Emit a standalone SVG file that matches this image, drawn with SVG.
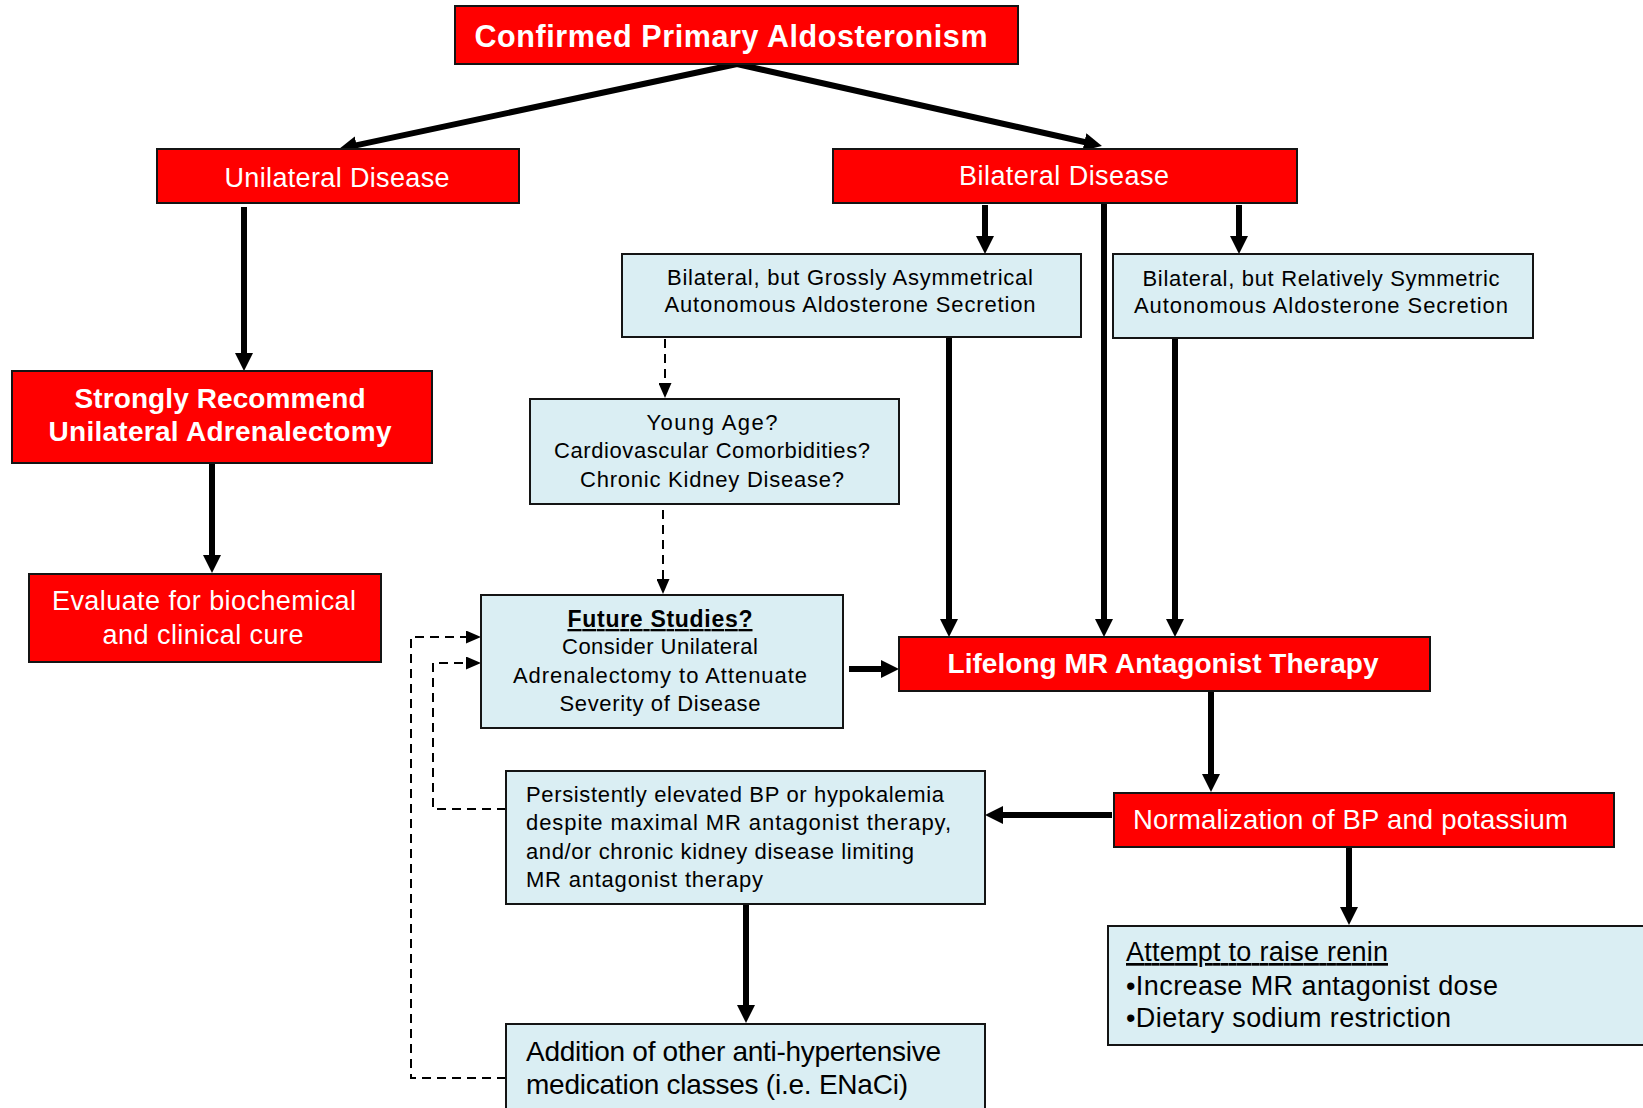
<svg xmlns="http://www.w3.org/2000/svg" width="1643" height="1108" viewBox="0 0 1643 1108">
  <defs>
    <marker id="arr" markerUnits="userSpaceOnUse" viewBox="0 0 18 18" markerWidth="18" markerHeight="18" refX="8" refY="9" orient="auto">
      <path d="M0,0 L18,9 L0,18 z" fill="#000"/>
    </marker>
    <marker id="arrd" markerUnits="userSpaceOnUse" viewBox="0 0 15 13" markerWidth="15" markerHeight="13" refX="7" refY="6.5" orient="auto">
      <path d="M0,0 L15,6.5 L0,13 z" fill="#000"/>
    </marker>
  </defs>
  <style>
    .red { fill: #FF0000; stroke: #141414; stroke-width: 2; }
    .blue { fill: #DAEEF3; stroke: #141414; stroke-width: 2; }
    text { font-family: "Liberation Sans", Arial, sans-serif; }
    .w { fill: #FFFFFF; }
    .k { fill: #000000; }
    .b { font-weight: bold; }
    .c { text-anchor: middle; }
    .conn { stroke: #000; stroke-width: 6; fill: none; marker-end: url(#arr); }
    .dash { stroke: #000; stroke-width: 2; fill: none; stroke-dasharray: 9 6; marker-end: url(#arrd); }
  </style>

  <rect width="1643" height="1108" fill="#FFFFFF"/>

  <!-- connectors -->
  <g id="connectors">
    <line class="conn" x1="737" y1="64" x2="348.8" y2="146.9"/>
    <line class="conn" x1="737" y1="64" x2="1092.2" y2="143.8"/>
    <line class="conn" x1="244" y1="207" x2="244" y2="361"/>
    <line class="conn" x1="212" y1="463" x2="212" y2="563"/>
    <line class="conn" x1="985" y1="205" x2="985" y2="244"/>
    <line class="conn" x1="1239" y1="205" x2="1239" y2="244"/>
    <line class="conn" x1="1104" y1="200" x2="1104" y2="627"/>
    <line class="conn" x1="949" y1="338" x2="949" y2="627"/>
    <line class="conn" x1="1175" y1="336" x2="1175" y2="627"/>
    <line class="conn" x1="849" y1="669" x2="889" y2="669"/>
    <line class="conn" x1="1211" y1="691" x2="1211" y2="782"/>
    <line class="conn" x1="1112" y1="815" x2="995" y2="815"/>
    <line class="conn" x1="1349" y1="847" x2="1349" y2="915"/>
    <line class="conn" x1="746" y1="904" x2="746" y2="1013"/>
    <path class="dash" d="M665,339 L665,390"/>
    <path class="dash" d="M663,510 L663,586"/>
    <path class="dash" d="M506,809 L433,809 L433,663 L473,663"/>
    <path class="dash" d="M506,1078 L411,1078 L411,637 L473,637"/>
  </g>

  <g id="confirmed">
    <rect class="red" x="455" y="6" width="563" height="58"/>
    <text class="w b c" x="731" y="47" font-size="30.5" textLength="513" lengthAdjust="spacing">Confirmed Primary Aldosteronism</text>
  </g>

  <g id="unilateral">
    <rect class="red" x="157" y="149" width="362" height="54"/>
    <text class="w c" x="337" y="187" font-size="27" textLength="225" lengthAdjust="spacing">Unilateral Disease</text>
  </g>

  <g id="bilateral">
    <rect class="red" x="833" y="149" width="464" height="54"/>
    <text class="w c" x="1064" y="185" font-size="27" textLength="210" lengthAdjust="spacing">Bilateral Disease</text>
  </g>

  <g id="asymmetric">
    <rect class="blue" x="622" y="254" width="459" height="83"/>
    <text class="k c" x="850" y="285" font-size="22" textLength="366" lengthAdjust="spacing">Bilateral, but Grossly Asymmetrical</text>
    <text class="k c" x="850" y="312" font-size="22" textLength="371" lengthAdjust="spacing">Autonomous Aldosterone Secretion</text>
  </g>

  <g id="symmetric">
    <rect class="blue" x="1113" y="254" width="420" height="84"/>
    <text class="k c" x="1321" y="286" font-size="22" textLength="357" lengthAdjust="spacing">Bilateral, but Relatively Symmetric</text>
    <text class="k c" x="1321" y="313" font-size="22" textLength="374" lengthAdjust="spacing">Autonomous Aldosterone Secretion</text>
  </g>

  <g id="adrenalectomy">
    <rect class="red" x="12" y="371" width="420" height="92"/>
    <text class="w b c" x="220" y="408" font-size="28" textLength="291" lengthAdjust="spacing">Strongly Recommend</text>
    <text class="w b c" x="220" y="441" font-size="28" textLength="343" lengthAdjust="spacing">Unilateral Adrenalectomy</text>
  </g>

  <g id="evaluate">
    <rect class="red" x="29" y="574" width="352" height="88"/>
    <text class="w c" x="204" y="610" font-size="27" textLength="304" lengthAdjust="spacing">Evaluate for biochemical</text>
    <text class="w c" x="203" y="644" font-size="27" textLength="201" lengthAdjust="spacing">and clinical cure</text>
  </g>

  <g id="risk-factors">
    <rect class="blue" x="530" y="399" width="369" height="105"/>
    <text class="k c" x="712" y="430" font-size="22" textLength="131" lengthAdjust="spacing">Young Age?</text>
    <text class="k c" x="712" y="458" font-size="22" textLength="316" lengthAdjust="spacing">Cardiovascular Comorbidities?</text>
    <text class="k c" x="712" y="487" font-size="22" textLength="264" lengthAdjust="spacing">Chronic Kidney Disease?</text>
  </g>

  <g id="future-studies">
    <rect class="blue" x="481" y="595" width="362" height="133"/>
    <text class="k b c" x="660" y="627" font-size="23" textLength="185" lengthAdjust="spacing" text-decoration="underline">Future Studies?</text>
    <text class="k c" x="660" y="654" font-size="22" textLength="196" lengthAdjust="spacing">Consider Unilateral</text>
    <text class="k c" x="660" y="683" font-size="22" textLength="294" lengthAdjust="spacing">Adrenalectomy to Attenuate</text>
    <text class="k c" x="660" y="711" font-size="22" textLength="201" lengthAdjust="spacing">Severity of Disease</text>
  </g>

  <g id="mr-antagonist">
    <rect class="red" x="899" y="637" width="531" height="54"/>
    <text class="w b c" x="1163" y="673" font-size="28" textLength="431" lengthAdjust="spacing">Lifelong MR Antagonist Therapy</text>
  </g>

  <g id="normalization">
    <rect class="red" x="1114" y="793" width="500" height="54"/>
    <text class="w" x="1133" y="829" font-size="27.5" textLength="435" lengthAdjust="spacing">Normalization of BP and potassium</text>
  </g>

  <g id="persistent">
    <rect class="blue" x="506" y="771" width="479" height="133"/>
    <text class="k" x="526" y="802" font-size="22" textLength="418" lengthAdjust="spacing">Persistently elevated BP or hypokalemia</text>
    <text class="k" x="526" y="830" font-size="22" textLength="425" lengthAdjust="spacing">despite maximal MR antagonist therapy,</text>
    <text class="k" x="526" y="859" font-size="22" textLength="388" lengthAdjust="spacing">and/or chronic kidney disease limiting</text>
    <text class="k" x="526" y="887" font-size="22" textLength="237" lengthAdjust="spacing">MR antagonist therapy</text>
  </g>

  <g id="add-medication">
    <rect class="blue" x="506" y="1024" width="479" height="100"/>
    <text class="k" x="526" y="1061" font-size="28" textLength="415" lengthAdjust="spacing">Addition of other anti-hypertensive</text>
    <text class="k" x="526" y="1094" font-size="28" textLength="382" lengthAdjust="spacing">medication classes (i.e. ENaCi)</text>
  </g>

  <g id="raise-renin">
    <rect class="blue" x="1108" y="926" width="550" height="119"/>
    <text class="k" x="1126" y="961" font-size="27" textLength="262" lengthAdjust="spacing" text-decoration="underline">Attempt to raise renin</text>
    <text class="k" x="1126" y="995" font-size="27" textLength="372" lengthAdjust="spacing">•Increase MR antagonist dose</text>
    <text class="k" x="1126" y="1027" font-size="27" textLength="325" lengthAdjust="spacing">•Dietary sodium restriction</text>
  </g>
</svg>
